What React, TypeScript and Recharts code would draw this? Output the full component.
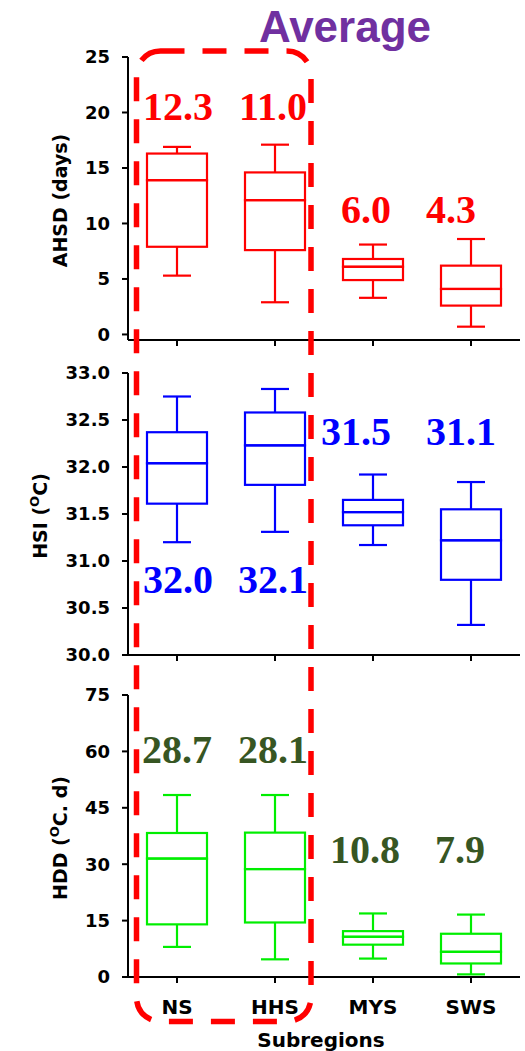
import React from 'react';
import { ComposedChart, Bar, Scatter, XAxis, YAxis } from 'recharts';

const subregions = ['NS', 'HHS', 'MYS', 'SWS'];

// AHSD (days)
const ahsdMin = [5.3, 2.9, 3.3, 0.7];
const ahsdQ1 = [7.9, 7.6, 4.9, 2.6];
const ahsdMedian = [13.9, 12.1, 6.1, 4.1];
const ahsdQ3 = [16.3, 14.6, 6.8, 6.2];
const ahsdMax = [16.9, 17.1, 8.1, 8.6];
const ahsdMean = [12.3, 11.0, 6.0, 4.3];

// HSI (oC)
const hsiMin = [31.2, 31.31, 31.17, 30.32];
const hsiQ1 = [31.61, 31.81, 31.38, 30.8];
const hsiMedian = [32.04, 32.23, 31.52, 31.22];
const hsiQ3 = [32.37, 32.58, 31.65, 31.55];
const hsiMax = [32.75, 32.83, 31.92, 31.84];
const hsiMean = [32.0, 32.1, 31.5, 31.1];

// HDD (oC. d)
const hddMin = [8.0, 4.7, 4.9, 0.7];
const hddQ1 = [14.0, 14.5, 8.6, 3.6];
const hddMedian = [31.5, 28.7, 10.7, 6.7];
const hddQ3 = [38.3, 38.4, 12.2, 11.5];
const hddMax = [48.4, 48.4, 16.9, 16.6];
const hddMean = [28.7, 28.1, 10.8, 7.9];

const ahsdTicks = [0, 5, 10, 15, 20, 25];
const hsiTicks = [30, 30.5, 31, 31.5, 32, 32.5, 33];
const hddTicks = [0, 15, 30, 45, 60, 75];

// where the mean labels sit (axis units, text baseline) and a small sideways nudge in px
const ahsdLabelAt = [19.3, 19.3, 10.0, 10.0];
const ahsdLabelDx = [1, -2, -7, -20];
const hsiLabelAt = [30.66, 30.66, 32.23, 32.23];
const hsiLabelDx = [1, -2, -17, -10];
const hddLabelAt = [56.9, 56.9, 30.3, 30.3];
const hddLabelDx = [0, -2, -8, -11];

const FONT = '"DejaVu Sans", sans-serif';

const buildRows = (
  min: number[], q1: number[], med: number[], q3: number[], max: number[],
  mean: number[], labelAt: number[], labelDx: number[]
) =>
  subregions.map((name, i) => ({
    name,
    base: min[i],
    lowWhisker: q1[i] - min[i],
    lowBox: med[i] - q1[i],
    highBox: q3[i] - med[i],
    highWhisker: max[i] - q3[i],
    mean: mean[i],
    labelAt: labelAt[i],
    labelDx: labelDx[i],
  }));

const makeWhisker = (color: string, capAtTop: boolean) => (props: any) => {
  const { x, y, width, height } = props;
  if (x == null || y == null) return <g />;
  const cx = x + width / 2;
  const capY = capAtTop ? y : y + height;
  return (
    <g>
      <line x1={cx} x2={cx} y1={y} y2={y + height} stroke={color} strokeWidth={2.2} />
      <line x1={cx - 14} x2={cx + 14} y1={capY} y2={capY} stroke={color} strokeWidth={2.2} />
    </g>
  );
};

const makeBox = (color: string) => (props: any) => {
  const { x, y, width, height } = props;
  if (x == null || y == null) return <g />;
  return <rect x={x} y={y} width={width} height={Math.max(height, 0)} fill="none" stroke={color} strokeWidth={2.2} />;
};

const YTitle = ({ viewBox, before, sup, after, baselineX }: any) => {
  const vb = viewBox || { x: 0, y: 0, width: 0, height: 0 };
  const cx = vb.x + baselineX;
  const cy = vb.y + vb.height / 2 + 2;
  return (
    <text
      x={cx}
      y={cy}
      transform={`rotate(-90 ${cx} ${cy})`}
      textAnchor="middle"
      fontFamily={FONT}
      fontWeight="bold"
      fontSize={19}
      fill="#000"
    >
      <tspan>{before}</tspan>
      {sup && <tspan dy={-8} fontSize={13}>{sup}</tspan>}
      {sup && <tspan dy={8}>{after}</tspan>}
    </text>
  );
};

const XTitle = ({ viewBox }: any) => {
  const vb = viewBox || { x: 0, y: 0, width: 0, height: 0 };
  return (
    <text x={vb.x + vb.width / 2 - 3} y={vb.y + 70} textAnchor="middle" fontFamily={FONT} fontWeight="bold" fontSize={20} fill="#000">
      Subregions
    </text>
  );
};

type PanelProps = {
  top: number;
  height: number;
  marginTop: number;
  xAxisHeight: number;
  rows: any[];
  domain: [number, number];
  ticks: number[];
  decimals: number;
  color: string;
  labelColor: string;
  title: { before: string; sup?: string; after?: string; baselineX: number };
  showNames: boolean;
};

const Panel = ({ top, height, marginTop, xAxisHeight, rows, domain, ticks, decimals, color, labelColor, title, showNames }: PanelProps) => {
  const axisStroke = { stroke: '#000', strokeWidth: 2 };
  const frameStroke = { stroke: '#000', strokeWidth: 1.5 };
  return (
    <div style={{ position: 'absolute', left: 0, top }}>
      <ComposedChart width={525} height={height} data={rows} margin={{ top: marginTop, right: 5, left: 0, bottom: 0 }} barSize={60}>
        <XAxis
          dataKey="name"
          height={xAxisHeight}
          axisLine={axisStroke}
          tickLine={axisStroke}
          tickSize={6}
          tickMargin={17}
          tick={{ fontFamily: FONT, fontWeight: 'bold', fontSize: 20, fill: '#000' }}
          tickFormatter={showNames ? undefined : () => ''}
          label={showNames ? <XTitle /> : undefined}
        />
        <XAxis xAxisId="top" orientation="top" dataKey="name" height={0} tick={false} tickLine={false} axisLine={frameStroke} />
        <YAxis
          width={128}
          domain={domain}
          ticks={ticks}
          allowDataOverflow
          axisLine={axisStroke}
          tickLine={axisStroke}
          tickSize={6}
          tickMargin={12}
          tick={{ fontFamily: FONT, fontWeight: 'bold', fontSize: 18, fill: '#000' }}
          tickFormatter={(v: number) => v.toFixed(decimals)}
          label={<YTitle {...title} />}
        />
        <YAxis yAxisId="right" orientation="right" width={0} domain={domain} tick={false} tickLine={false} axisLine={frameStroke} />
        <Bar dataKey="base" stackId="box" isAnimationActive={false} shape={() => <g />} />
        <Bar dataKey="lowWhisker" stackId="box" isAnimationActive={false} shape={makeWhisker(color, false)} />
        <Bar dataKey="lowBox" stackId="box" isAnimationActive={false} shape={makeBox(color)} />
        <Bar dataKey="highBox" stackId="box" isAnimationActive={false} shape={makeBox(color)} />
        <Bar dataKey="highWhisker" stackId="box" isAnimationActive={false} shape={makeWhisker(color, true)} />
        <Scatter
          dataKey="labelAt"
          isAnimationActive={false}
          shape={(p: any) => (
            <text
              x={p.cx + p.payload.labelDx}
              y={p.cy}
              textAnchor="middle"
              fontFamily='"Liberation Serif", "Times New Roman", serif'
              fontWeight="bold"
              fontSize={40}
              fill={labelColor}
            >
              {p.payload.mean.toFixed(1)}
            </text>
          )}
        />
      </ComposedChart>
    </div>
  );
};

const ahsdRows = buildRows(ahsdMin, ahsdQ1, ahsdMedian, ahsdQ3, ahsdMax, ahsdMean, ahsdLabelAt, ahsdLabelDx);
const hsiRows = buildRows(hsiMin, hsiQ1, hsiMedian, hsiQ3, hsiMax, hsiMean, hsiLabelAt, hsiLabelDx);
const hddRows = buildRows(hddMin, hddQ1, hddMedian, hddQ3, hddMax, hddMean, hddLabelAt, hddLabelDx);

export default function App() {
  return (
    <div style={{ position: 'absolute', left: 0, top: 0, width: 525, height: 1051, background: '#fff', overflow: 'hidden' }}>
      <Panel
        top={0}
        height={360}
        marginTop={57}
        xAxisHeight={20}
        rows={ahsdRows}
        domain={[-0.5, 25]}
        ticks={ahsdTicks}
        decimals={0}
        color="#ff0000"
        labelColor="#ff0000"
        title={{ before: 'AHSD (days)', baselineX: 67 }}
        showNames={false}
      />
      <Panel
        top={352}
        height={323}
        marginTop={21}
        xAxisHeight={20}
        rows={hsiRows}
        domain={[30, 33]}
        ticks={hsiTicks}
        decimals={1}
        color="#0000ff"
        labelColor="#0000ff"
        title={{ before: 'HSI (', sup: 'O', after: 'C)', baselineX: 47 }}
        showNames={false}
      />
      <Panel
        top={675}
        height={376}
        marginTop={20}
        xAxisHeight={74}
        rows={hddRows}
        domain={[0, 75]}
        ticks={hddTicks}
        decimals={0}
        color="#00ee00"
        labelColor="#375623"
        title={{ before: 'HDD (', sup: 'O', after: 'C. d)', baselineX: 67 }}
        showNames
      />
      <svg width={525} height={1051} style={{ position: 'absolute', left: 0, top: 0, pointerEvents: 'none' }}>
        <rect x={136.5} y={51} width={174.5} height={970.5} rx={24} fill="none" stroke="#ff0000" strokeWidth={5.5} strokeDasharray="24 18" />
        <text x={345} y={42} textAnchor="middle" fontFamily='"Liberation Sans", Arial, sans-serif' fontWeight="bold" fontSize={44} fill="#7030a0">
          Average
        </text>
      </svg>
    </div>
  );
}
